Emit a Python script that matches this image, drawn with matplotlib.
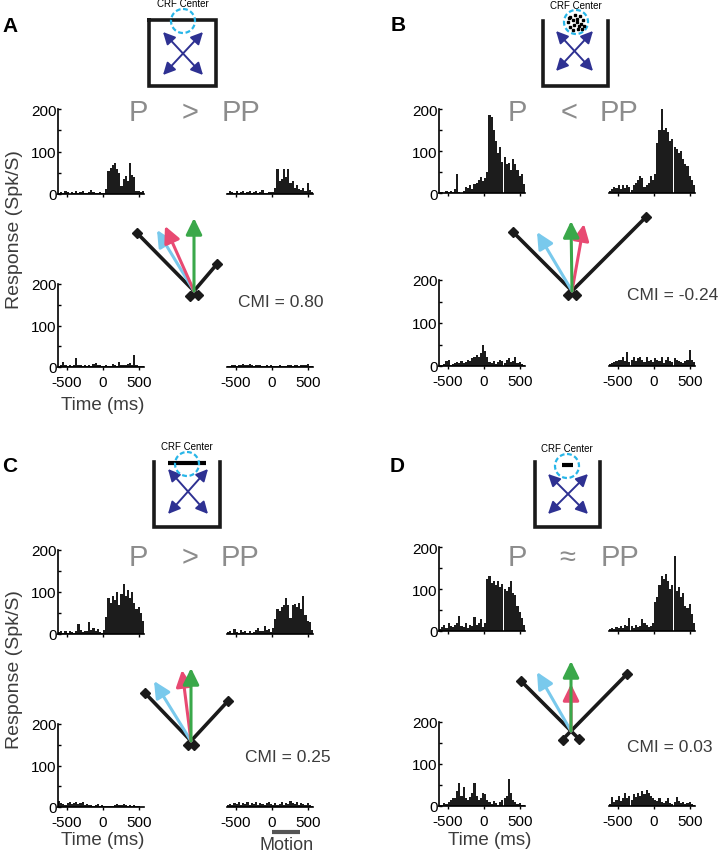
import numpy as np
import matplotlib
matplotlib.use('Agg')
import matplotlib.pyplot as plt
from matplotlib.patches import Circle

plt.rcParams['font.family'] = ['Liberation Sans', 'DejaVu Sans']
plt.rcParams['axes.unicode_minus'] = False

W, H = 719, 853

# PSTH bins: 40 bins of 30 ms starting at -625 ms
bin_start = -625
bin_width = 30
tick_times = [-500, 0, 500]

# firing rates (spk/s), tl/tr = upper row, bl/br = lower row
a_tl = [3, 5, 2, 6, 4, 0, 5, 3, 6, 2, 4, 8, 3, 2, 5, 10, 4, 3, 2, 4,
        3, 3, 12, 55, 62, 68, 72, 60, 50, 20, 35, 42, 30, 72, 45, 40, 8, 6, 5, 6]
a_tr = [2, 6, 4, 3, 8, 2, 5, 6, 3, 4, 7, 2, 5, 8, 3, 4, 10, 3, 2, 5,
        4, 5, 15, 58, 30, 35, 58, 40, 58, 25, 30, 15, 22, 12, 10, 14, 8, 25, 10, 5]
a_bl = [3, 4, 12, 5, 3, 6, 2, 5, 22, 5, 6, 3, 5, 2, 4, 3, 8, 10, 4, 6,
        3, 2, 4, 3, 2, 8, 5, 3, 12, 6, 4, 5, 8, 10, 4, 30, 6, 3, 2, 2]
a_br = [2, 3, 5, 4, 3, 6, 5, 8, 6, 4, 7, 5, 3, 6, 4, 5, 3, 2, 4, 3,
        5, 2, 3, 2, 4, 3, 2, 3, 5, 4, 3, 6, 4, 3, 5, 6, 4, 7, 3, 2]

b_tl = [2, 3, 0, 4, 2, 5, 3, 10, 45, 2, 0, 4, 15, 12, 18, 10, 22, 25, 30, 38,
        28, 35, 50, 185, 180, 150, 125, 95, 110, 75, 85, 70, 72, 55, 80, 70, 55, 40, 45, 22]
b_tr = [5, 10, 15, 12, 20, 10, 18, 12, 20, 15, 8, 18, 25, 30, 40, 35, 15, 20, 25, 40,
        30, 45, 120, 150, 200, 150, 155, 145, 125, 128, 110, 105, 95, 100, 80, 70, 65, 40, 30, 20]
b_bl = [2, 3, 5, 12, 15, 3, 5, 8, 10, 6, 12, 8, 10, 15, 12, 18, 20, 25, 22, 30,
        50, 35, 20, 10, 8, 12, 5, 10, 15, 12, 8, 15, 18, 10, 12, 20, 8, 10, 5, 3]
b_br = [5, 8, 10, 12, 15, 15, 20, 12, 33, 10, 15, 20, 12, 18, 22, 15, 10, 20, 12, 15,
        10, 18, 15, 12, 20, 8, 15, 22, 12, 10, 18, 15, 12, 10, 8, 12, 15, 37, 15, 10]

c_tl = [5, 8, 3, 8, 2, 6, 4, 3, 6, 25, 10, 5, 8, 6, 28, 10, 15, 8, 12, 5,
        3, 10, 40, 85, 75, 90, 80, 100, 70, 95, 118, 90, 105, 85, 100, 75, 60, 65, 50, 30]
c_tr = [5, 8, 3, 12, 5, 3, 10, 4, 8, 2, 6, 3, 5, 10, 15, 6, 8, 18, 10, 12,
        5, 15, 35, 60, 55, 65, 70, 85, 70, 38, 70, 72, 65, 75, 60, 90, 45, 30, 28, 10]
c_bl = [15, 10, 8, 6, 10, 12, 8, 10, 12, 8, 10, 12, 6, 8, 5, 4, 3, 5, 8, 3,
        6, 3, 2, 3, 2, 3, 5, 8, 4, 6, 8, 4, 3, 6, 2, 5, 3, 2, 1, 1]
c_br = [5, 8, 6, 10, 8, 12, 6, 10, 8, 12, 5, 10, 8, 12, 6, 10, 8, 5, 10, 12,
        8, 6, 10, 5, 8, 12, 6, 10, 8, 15, 10, 8, 12, 6, 10, 8, 5, 10, 6, 3]

d_tl = [5, 10, 15, 8, 18, 12, 10, 15, 20, 35, 12, 10, 18, 8, 15, 12, 33, 15, 20, 28,
        10, 20, 125, 130, 115, 120, 110, 118, 105, 112, 100, 95, 105, 118, 90, 85, 60, 45, 30, 15]
d_tr = [5, 8, 5, 10, 6, 12, 8, 15, 12, 30, 12, 8, 15, 10, 12, 28, 18, 15, 10, 12,
        20, 70, 80, 110, 130, 125, 135, 120, 100, 110, 178, 95, 105, 80, 90, 60, 55, 65, 40, 20]
d_bl = [2, 3, 8, 5, 10, 15, 20, 18, 35, 55, 25, 45, 20, 15, 22, 30, 55, 25, 15, 20,
        30, 28, 15, 10, 5, 12, 8, 3, 10, 15, 20, 25, 65, 30, 15, 10, 5, 8, 3, 2]
d_br = [5, 22, 10, 15, 25, 12, 20, 30, 18, 25, 15, 28, 22, 30, 25, 35, 28, 38, 30, 25,
        20, 15, 12, 18, 10, 8, 12, 20, 8, 5, 10, 22, 12, 8, 10, 5, 8, 10, 5, 3]

letters = ['A', 'B', 'C', 'D']
relations = ['>', '<', '>', '\u2248']
cmi_values = ['0.80', '-0.24', '0.25', '0.03']

# vector diagrams (dx, dy): two flank bars, then cyan / pink / green arrows
flank_left = [(-57, 58), (-59, 59), (-46, 48), (-50, 50)]
flank_right = [(23, 27), (74, 74), (37, 40), (56, 57)]
vec_cyan = [(-37, 61), (-35, 59), (-37, 60), (-34, 59)]
vec_pink = [(-29, 65), (12, 67), (-9, 71), (0, 47)]
vec_green = [(0, 73), (-1, 70), (0, 73), (0, 70)]

# layout in pixels
layout = [
    dict(psth=(a_tl, a_tr, a_bl, a_br), xs=(58, 227), top=(110, 195), bot=(285, 368),
         letter=(10, 26), rel_y=113, rel_x=(138, 190, 241), cmi=(238, 302),
         origin=(194, 292), ext=6, box=(149, 21, 216, 87), closed=True,
         crf=(183, 22), crf_txt=(183, 4), xarr=(163, 33, 203, 76)),
    dict(psth=(b_tl, b_tr, b_bl, b_br), xs=(439, 609), top=(110, 194), bot=(281, 367),
         letter=(398, 25), rel_y=113, rel_x=(517, 569, 619), cmi=(627, 295),
         origin=(572, 292), ext=6, box=(543, 22, 608, 87), closed=False,
         crf=(576, 23), crf_txt=(576, 6), xarr=(556, 32, 593, 72)),
    dict(psth=(c_tl, c_tr, c_bl, c_br), xs=(58, 227), top=(551, 635), bot=(725, 808),
         letter=(10, 467), rel_y=558, rel_x=(138, 190, 240), cmi=(245, 758),
         origin=(191, 742), ext=5, box=(154, 463, 220, 528), closed=False,
         crf=(187, 465), crf_txt=(187, 447), xarr=(168, 470, 208, 515)),
    dict(psth=(d_tl, d_tr, d_bl, d_br), xs=(439, 609), top=(548, 632), bot=(723, 807),
         letter=(397, 467), rel_y=558, rel_x=(517, 567, 620), cmi=(627, 748),
         origin=(571, 732), ext=12, box=(535, 463, 600, 528), closed=False,
         crf=(567, 467), crf_txt=(567, 449), xarr=(548, 475, 588, 515)),
]

dot_offsets = [(-6, -5), (-1, -7), (4, -6), (7, -2), (-8, 0), (-3, -2), (1, -3), (5, 2),
               (8, 4), (-6, 5), (-2, 3), (2, 7), (6, 7), (-3, 8), (1, 0),
               (-7, -4), (3, 4)]

fig = plt.figure(figsize=(W / 100, H / 100), dpi=100)

ov = fig.add_axes([0, 0, 1, 1])
ov.set_xlim(0, W)
ov.set_ylim(H, 0)
ov.axis('off')


def px_axes(x0, y0, x1, y1):
    return fig.add_axes([x0 / W, 1 - y1 / H, (x1 - x0) / W, (y1 - y0) / H])


def draw_psth(ax, vals, left_axis, xlabels):
    centers = bin_start + bin_width * (np.arange(len(vals)) + 0.5)
    ax.bar(centers, vals, width=bin_width, color='#1c1c1c', linewidth=0)
    ax.set_xlim(bin_start, bin_start + bin_width * len(vals))
    ax.set_ylim(0, 200)
    ax.patch.set_alpha(0)
    ax.spines['top'].set_visible(False)
    ax.spines['right'].set_visible(False)
    ax.spines['bottom'].set_linewidth(1.2)
    ax.spines['left'].set_linewidth(1.2)
    ax.set_xticks(tick_times)
    ax.tick_params(axis='x', direction='out', length=2, width=1, pad=4, labelsize=11)
    if not xlabels:
        ax.set_xticklabels([])
    if left_axis:
        ax.set_yticks([0, 100, 200])
        ax.set_yticks([50, 150], minor=True)
        ax.tick_params(axis='y', which='both', direction='in', length=2.5, width=1,
                       pad=1, labelsize=11)
    else:
        ax.spines['left'].set_visible(False)
        ax.set_yticks([])


for k, p in enumerate(layout):
    tl, tr, bl, br = p['psth']
    xl, xr = p['xs']
    draw_psth(px_axes(xl, p['top'][0], xl + 86, p['top'][1]), tl, True, False)
    draw_psth(px_axes(xr, p['top'][0], xr + 86, p['top'][1]), tr, False, False)
    draw_psth(px_axes(xl, p['bot'][0], xl + 86, p['bot'][1]), bl, True, True)
    ax_br = px_axes(xr, p['bot'][0], xr + 86, p['bot'][1])
    draw_psth(ax_br, br, False, True)
    if k == 2:
        tr_ = ax_br.get_xaxis_transform()
        ax_br.plot([0, 400], [-0.30, -0.30], color='#555555', lw=3,
                   transform=tr_, clip_on=False, solid_capstyle='butt')
        ax_br.text(200, -0.45, 'Motion', transform=tr_, ha='center', va='center',
                   fontsize=13, color='#3c3c3c')

    # panel letter
    ov.text(*p['letter'], letters[k], fontsize=15, fontweight='bold',
            ha='center', va='center')

    # P ? PP
    rx = p['rel_x']
    ov.text(rx[0], p['rel_y'], 'P', fontsize=21, color='#8c8c8c', ha='center', va='center')
    ov.text(rx[1], p['rel_y'], relations[k], fontsize=21, color='#8c8c8c',
            ha='center', va='center')
    ov.text(rx[2], p['rel_y'], 'PP', fontsize=21, color='#8c8c8c', ha='center', va='center')

    ov.text(*p['cmi'], 'CMI = ' + cmi_values[k], fontsize=12.5, color='#3c3c3c',
            ha='left', va='center')

    # stimulus schematic
    x0, y0, x1, y1 = p['box']
    if p['closed']:
        ov.plot([x0, x1, x1, x0, x0], [y0, y0, y1, y1, y0], color='#1a1a1a', lw=2.6,
                solid_joinstyle='miter')
    else:
        ov.plot([x0, x0, x1, x1], [y0, y1, y1, y0], color='#1a1a1a', lw=2.6,
                solid_joinstyle='miter')
    cx, cy = p['crf']
    ov.add_patch(Circle((cx, cy), 12, fill=False, ec='#29b6e8', lw=1.6, ls=(0, (2.2, 1.2)),
                        zorder=4))
    ov.text(*p['crf_txt'], 'CRF Center', fontsize=7, ha='center', va='center')
    if k == 1:
        ov.plot([cx + dx for dx, dy in dot_offsets], [cy + dy for dx, dy in dot_offsets],
                'ks', ms=1.5, zorder=5)
    elif k == 2:
        ov.plot([cx - 19, cx + 19], [cy - 1, cy - 1], color='k', lw=3, zorder=3,
                solid_capstyle='butt')
    elif k == 3:
        ov.plot([cx - 5.5, cx + 5.5], [cy - 1, cy - 1], color='k', lw=3, zorder=3,
                solid_capstyle='butt')
    ax0, ay0, ax1, ay1 = p['xarr']
    for (sx, sy, ex, ey) in [(ax0, ay1, ax1, ay0), (ax0, ay0, ax1, ay1)]:
        ov.annotate('', xy=(ex, ey), xytext=(sx, sy),
                    arrowprops=dict(arrowstyle='<|-|>,head_length=0.6,head_width=0.3',
                                    color='#2e3192', lw=1.4, mutation_scale=12,
                                    shrinkA=0, shrinkB=0))

    # vector diagram
    ox, oy = p['origin']
    for v in (flank_left[k], flank_right[k]):
        u = np.array(v, dtype=float) / np.hypot(*v)
        sx, sy = ox - p['ext'] * u[0], oy + p['ext'] * u[1]
        ov.plot([sx, ox + v[0]], [sy, oy - v[1]], color='#1a1a1a', lw=2.6,
                marker='D', ms=5, solid_capstyle='butt')
    for v, col in [(vec_cyan[k], '#79c9ec'), (vec_pink[k], '#e84a72'),
                   (vec_green[k], '#3aa84a')]:
        ov.annotate('', xy=(ox + v[0], oy - v[1]), xytext=(ox, oy),
                    arrowprops=dict(arrowstyle='-|>,head_length=0.55,head_width=0.27',
                                    color=col, lw=2.2, mutation_scale=18,
                                    shrinkA=0, shrinkB=0))

# axis labels
for y in (230, 670):
    ov.text(15, y, 'Response (Spk/S)', rotation=90, fontsize=14, color='#3c3c3c',
            ha='center', va='center')
for x, y in [(103, 405), (103, 841), (490, 841)]:
    ov.text(x, y, 'Time (ms)', fontsize=13.5, color='#3c3c3c', ha='center', va='center')

fig.savefig('out.png', dpi=100, facecolor='white')
